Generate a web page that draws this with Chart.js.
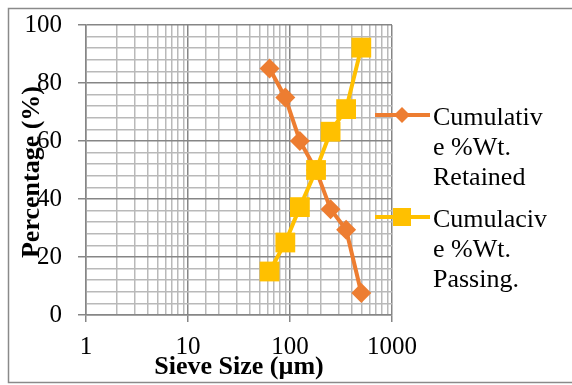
<!DOCTYPE html>
<html>
<head>
<meta charset="utf-8">
<script src="https://cdn.jsdelivr.net/npm/chart.js@4.4.1/dist/chart.umd.min.js"></script>
<style>
  html, body { margin: 0; padding: 0; background: #fff; }
  #sieveChart { display: block; }
</style>
</head>
<body>
<canvas id="sieveChart" width="572" height="385"></canvas>
<script>
// sieve sizes (µm) and cumulative percentages
const sieveSizes = [63, 90, 125, 180, 250, 355, 500];
const retained = [85, 75, 60, 50, 36.5, 29.4, 7.6];
const passing = [15, 25, 37.2, 50, 63.2, 71, 92.2];

const seriesLabels = ["Cumulative %Wt. Retained", "Cumulacive %Wt. Passing."];
const legendLines = [
    ["Cumulativ", "e %Wt.", "Retained"],
    ["Cumulaciv", "e %Wt.", "Passing."],
];
const xTitle = "Sieve Size (µm)";
const yTitle = "Percentage (%)";

const ORANGE = "#ED7D31";
const YELLOW = "#FFC000";
const MAJOR_GRID = "#868686";
const MINOR_GRID = "#b9b9b9";
const SERIF = '"Liberation Serif", "Times New Roman", serif';

function isPow10(v) {
    const l = Math.log10(v);
    return Math.abs(l - Math.round(l)) < 1e-9;
}

function toPoints(ys) {
    return sieveSizes.map((x, i) => ({ x: x, y: ys[i] }));
}

// frame, axis titles and the wrapped legend on the right
const decorPlugin = {
    id: "decor",
    beforeDraw(chart) {
        const ctx = chart.ctx;
        ctx.save();
        ctx.fillStyle = "#fff";
        ctx.fillRect(0, 0, chart.width, chart.height);
        ctx.strokeStyle = "#8a8a8a";
        ctx.lineWidth = 1.5;
        ctx.strokeRect(8.5, 8.5, chart.width + 20, 374);
        ctx.restore();
    },
    afterDraw(chart) {
        const ctx = chart.ctx;
        const area = chart.chartArea;
        ctx.save();
        ctx.fillStyle = "#000";

        // x title
        ctx.font = "bold 26px " + SERIF;
        ctx.textAlign = "center";
        ctx.textBaseline = "alphabetic";
        ctx.fillText(xTitle, (area.left + area.right) / 2, 374);

        // y title, overlapping the tick labels like the original
        ctx.save();
        ctx.translate(39, (area.top + area.bottom) / 2 + 2);
        ctx.rotate(-Math.PI / 2);
        ctx.fillText(yTitle, 0, 0);
        ctx.restore();

        // legend
        const markerY = [115, 217];
        const baseY = [125, 227];
        chart.data.datasets.forEach((ds, i) => {
            const y = markerY[i];
            ctx.strokeStyle = ds.borderColor;
            ctx.lineWidth = 4;
            ctx.beginPath();
            ctx.moveTo(375, y);
            ctx.lineTo(430, y);
            ctx.stroke();
            ctx.fillStyle = ds.backgroundColor;
            ctx.beginPath();
            if (ds.pointStyle === "rectRot") {
                const r = 8;
                ctx.moveTo(402, y - r);
                ctx.lineTo(402 + r, y);
                ctx.lineTo(402, y + r);
                ctx.lineTo(402 - r, y);
                ctx.closePath();
            } else {
                ctx.rect(393, y - 9, 18, 18);
            }
            ctx.fill();

            ctx.fillStyle = "#000";
            ctx.font = "26px " + SERIF;
            ctx.textAlign = "left";
            legendLines[i].forEach((line, j) => {
                ctx.fillText(line, 433, baseY[i] + j * 30);
            });
        });
        ctx.restore();
    },
};

new Chart(document.getElementById("sieveChart"), {
    type: "line",
    data: {
        datasets: [
            {
                label: seriesLabels[0],
                data: toPoints(retained),
                borderColor: ORANGE,
                backgroundColor: ORANGE,
                borderWidth: 4,
                pointStyle: "rectRot",
                pointRadius: 10,
                pointBorderWidth: 0,
                tension: 0,
                order: 2,
            },
            {
                label: seriesLabels[1],
                data: toPoints(passing),
                borderColor: YELLOW,
                backgroundColor: YELLOW,
                borderWidth: 4,
                pointStyle: "rect",
                pointRadius: 14,
                pointBorderWidth: 0,
                tension: 0,
                order: 1,
            },
        ],
    },
    options: {
        responsive: false,
        animation: false,
        events: [],
        layout: {
            padding: { left: 0, top: 25, right: 180, bottom: 0 },
        },
        plugins: {
            legend: { display: false },
            tooltip: { enabled: false },
        },
        scales: {
            x: {
                type: "logarithmic",
                min: 1,
                max: 1000,
                afterFit: (scale) => {
                    scale.height = 70;
                    scale.paddingLeft = 0;
                    scale.paddingRight = 0;
                },
                grid: {
                    color: (c) => (c.tick && isPow10(c.tick.value) ? MAJOR_GRID : MINOR_GRID),
                    tickColor: (c) => (c.tick && isPow10(c.tick.value) ? MAJOR_GRID : "rgba(0,0,0,0)"),
                    lineWidth: 1.5,
                    tickLength: 7,
                },
                border: { color: MAJOR_GRID, width: 1.5 },
                ticks: {
                    autoSkip: false,
                    maxRotation: 0,
                    padding: 10,
                    color: "#000",
                    font: { family: SERIF, size: 25 },
                    callback: (value) => (isPow10(value) ? String(Math.round(value)) : ""),
                },
            },
            y: {
                min: 0,
                max: 100,
                afterFit: (scale) => {
                    scale.width = 86;
                    scale.paddingTop = 0;
                    scale.paddingBottom = 0;
                },
                grid: {
                    color: (c) => (c.tick && c.tick.value % 20 === 0 ? MAJOR_GRID : MINOR_GRID),
                    tickColor: (c) => (c.tick && c.tick.value % 20 === 0 ? MAJOR_GRID : "rgba(0,0,0,0)"),
                    lineWidth: 1.5,
                    tickLength: 8,
                },
                border: { color: MAJOR_GRID, width: 1.5 },
                ticks: {
                    stepSize: 4,
                    autoSkip: false,
                    padding: 16,
                    color: "#000",
                    font: { family: SERIF, size: 25 },
                    callback: (value) => (value % 20 === 0 ? String(value) : ""),
                },
            },
        },
    },
    plugins: [decorPlugin],
});
</script>
</body>
</html>
